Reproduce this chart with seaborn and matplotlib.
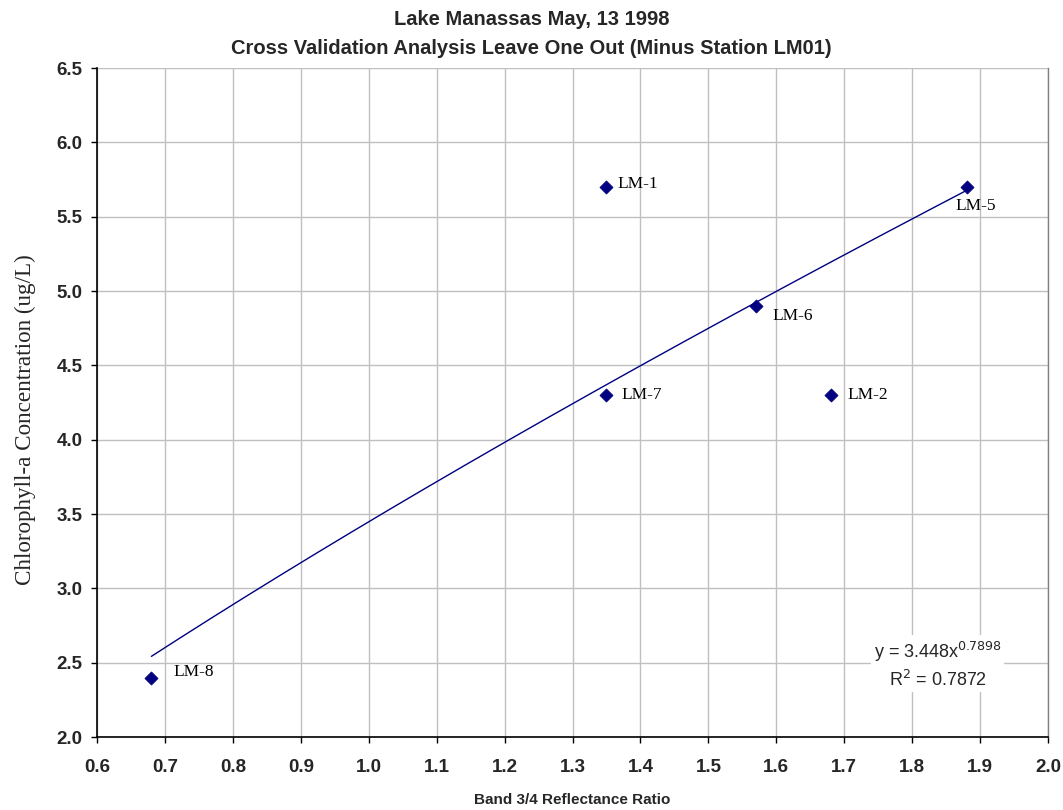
import numpy as np
import pandas as pd
import matplotlib
matplotlib.use("Agg")
import matplotlib.pyplot as plt
import seaborn as sns

# ---- data ----
stations = ["LM-8", "LM-1", "LM-7", "LM-6", "LM-2", "LM-5"]
ratio = [0.68, 1.35, 1.35, 1.57, 1.68, 1.88]
chl = [2.4, 5.7, 4.3, 4.9, 4.3, 5.7]
# power trendline y = a * x^b
fit_a = 3.448
fit_b = 0.7898
fit_r2 = 0.7872
x_ticks = [0.6, 0.7, 0.8, 0.9, 1.0, 1.1, 1.2, 1.3, 1.4, 1.5, 1.6, 1.7, 1.8, 1.9, 2.0]
y_ticks = [2.0, 2.5, 3.0, 3.5, 4.0, 4.5, 5.0, 5.5, 6.0, 6.5]

df = pd.DataFrame({"station": stations, "ratio": ratio, "chl": chl})

sns.set_theme(style="whitegrid")
plt.rcParams['font.family'] = ['Liberation Sans', 'DejaVu Sans']

fig = plt.figure(figsize=(10.63, 8.10), dpi=100)
ax = fig.add_axes([0.0913, 0.0901, 0.8946, 0.8259])

# trendline
xs = np.linspace(min(ratio), max(ratio), 200)
trend = pd.DataFrame({"x": xs, "y": fit_a * xs ** fit_b})
sns.lineplot(data=trend, x="x", y="y", ax=ax, color="#000080", linewidth=1.0, zorder=3)

sns.scatterplot(data=df, x="ratio", y="chl", ax=ax, marker="D", s=45,
                color="#000080", edgecolor="#000080", linewidth=0.5, zorder=4)

offsets = {"LM-8": (16, 4), "LM-1": (8, 2), "LM-7": (11, 0), "LM-6": (12, -7),
           "LM-2": (12, 0), "LM-5": (-8, -14)}
for s, xv, yv in zip(stations, ratio, chl):
    ax.annotate(s, (xv, yv), xytext=offsets[s], textcoords="offset points",
                ha="left", va="center", fontsize=12.5, family="Liberation Serif",
                color="black", zorder=5)

ax.set_xlim(0.6, 2.0)
ax.set_ylim(2.0, 6.5)
ax.set_xticks(x_ticks)
ax.set_yticks(y_ticks)
ax.set_xticklabels([f"{v:.1f}" for v in x_ticks], fontsize=13.5, fontweight="bold")
ax.set_yticklabels([f"{v:.1f}" for v in y_ticks], fontsize=13.5, fontweight="bold")
ax.tick_params(axis="both", which="both", direction="out", length=4.5, width=1,
               color="black", bottom=True, left=True)
ax.tick_params(axis="x", pad=11)
ax.tick_params(axis="y", pad=6)

ax.grid(True, color="#c0c0c0", linewidth=1.0)
ax.set_facecolor("white")
for side in ["left", "bottom"]:
    ax.spines[side].set_color("black")
    ax.spines[side].set_linewidth(1.2)
ax.spines["top"].set_visible(False)
ax.spines["right"].set_color("#808080")
ax.spines["right"].set_linewidth(1.0)

ax.set_xlabel("Band 3/4 Reflectance Ratio", fontsize=11, fontweight="bold")
ax.xaxis.set_label_coords(0.5, -0.084)
ax.set_ylabel("Chlorophyll-a Concentration (ug/L)", fontsize=16.7,
              family="Liberation Serif")
ax.yaxis.set_label_coords(-0.064, 0.474)

fig.suptitle("Lake Manassas May, 13 1998\nCross Validation Analysis Leave One Out (Minus Station LM01)",
             fontsize=14.5, fontweight="bold", y=0.988, linespacing=1.68)

ax.text(0.884, 0.108, f"y = {fit_a}x$^{{{fit_b}}}$\nR$^2$ = {fit_r2}",
        transform=ax.transAxes, ha="center", va="center", fontsize=13,
        linespacing=1.35, zorder=6,
        bbox=dict(facecolor="white", edgecolor="none", pad=2))

fig.savefig("out.png", dpi=100)
